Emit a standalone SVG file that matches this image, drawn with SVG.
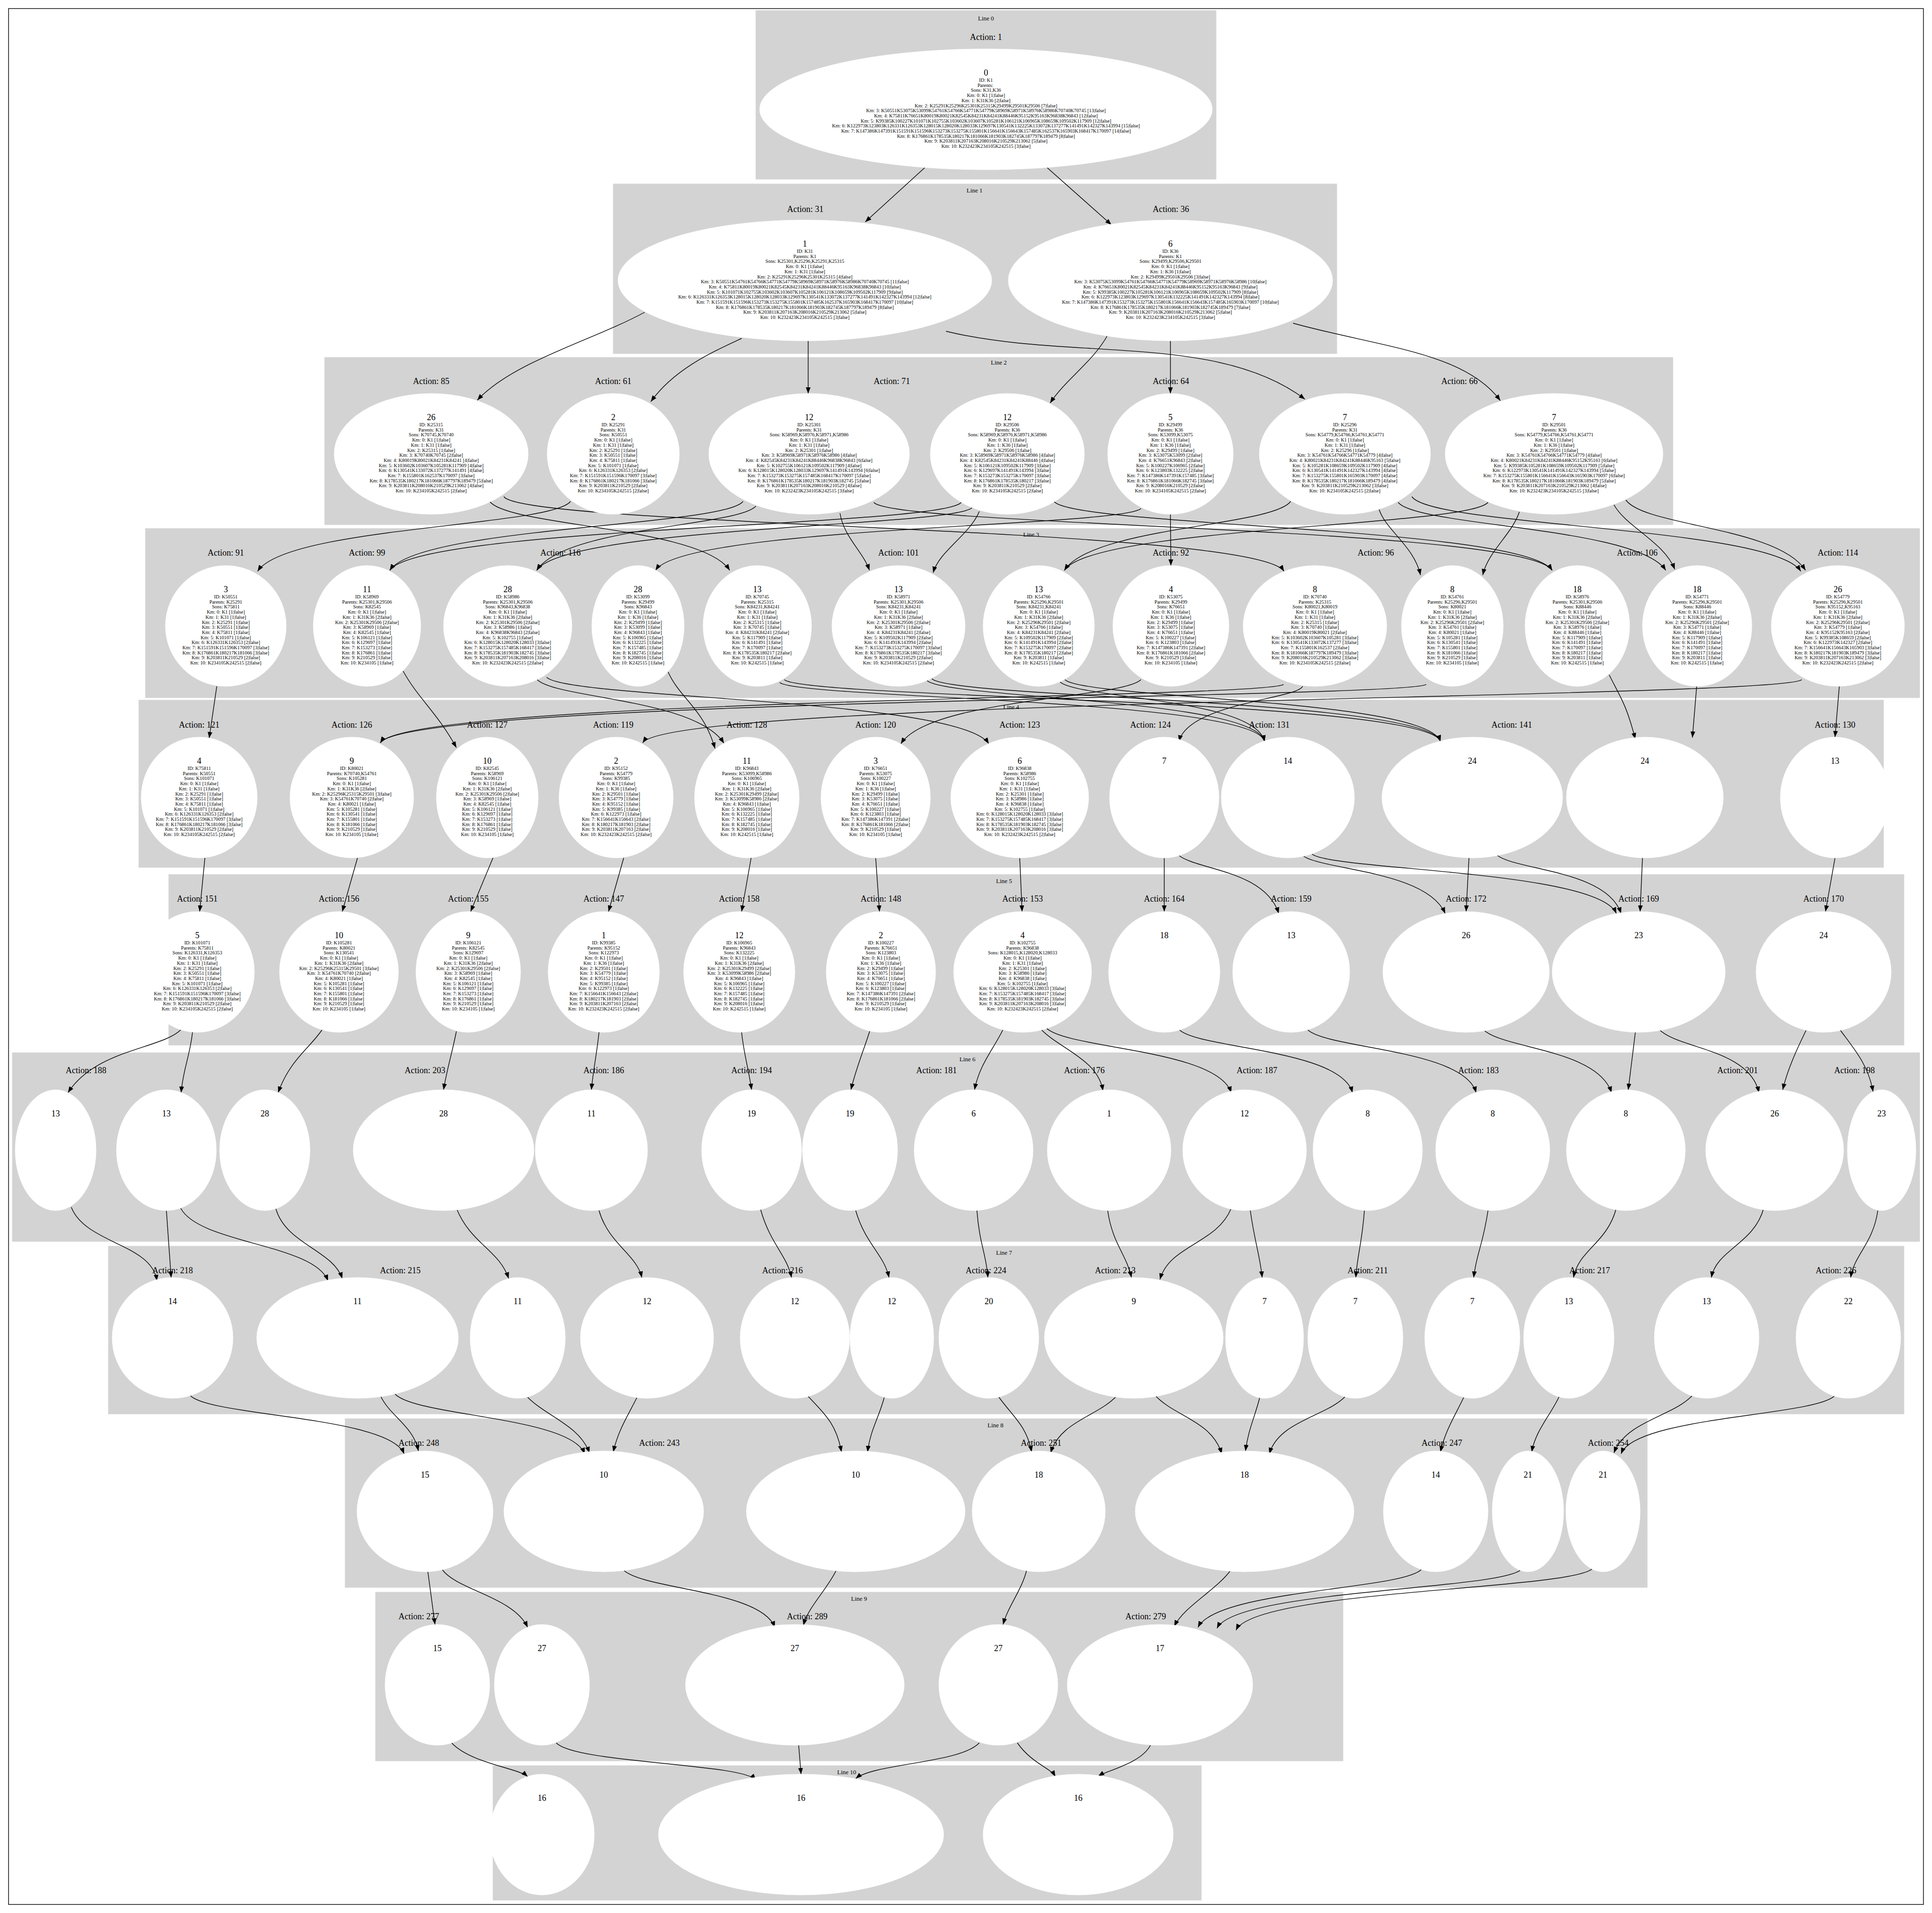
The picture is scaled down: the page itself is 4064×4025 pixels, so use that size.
<svg xmlns="http://www.w3.org/2000/svg" width="4064" height="4025" viewBox="0 0 4064 4025">
<style>
.cl{fill:#d3d3d3;stroke:#d3d3d3}
.nd{fill:#fff;stroke:#fff}
text{font-family:"Liberation Serif","Times New Roman",serif;fill:#000;text-anchor:middle}
.t{font-size:10.3px}
.n{font-size:18px}
.a{font-size:18px}
.l{font-size:13px}
.e path{fill:none;stroke:#000;stroke-width:1.4;marker-end:url(#ah)}
</style>
<defs><marker id="ah" markerWidth="13" markerHeight="10" refX="13" refY="5" orient="auto" markerUnits="userSpaceOnUse"><path d="M0,0L13,5L0,10z" fill="#000"/></marker></defs>
<rect width="4064" height="4025" fill="#fff"/>
<rect x="18" y="18" width="4028" height="3989" fill="none" stroke="#000" stroke-width="1.4"/>
<g id="clusters">
<rect class="cl" x="1590" y="22" width="968" height="355"/><text class="l" x="2074" y="43">Line 0</text>
<rect class="cl" x="1290" y="387" width="1522" height="357"/><text class="l" x="2050" y="405">Line 1</text>
<rect class="cl" x="683" y="752" width="2836" height="352"/><text class="l" x="2101" y="767">Line 2</text>
<rect class="cl" x="306" y="1112" width="3732" height="356"/><text class="l" x="2169" y="1129">Line 3</text>
<rect class="cl" x="292" y="1473" width="3670" height="352"/><text class="l" x="2127" y="1492">Line 4</text>
<rect class="cl" x="355" y="1840" width="3650" height="359"/><text class="l" x="2112" y="1858">Line 5</text>
<rect class="cl" x="26" y="2215" width="4012" height="397"/><text class="l" x="2035" y="2233">Line 6</text>
<rect class="cl" x="228" y="2622" width="3777" height="353"/><text class="l" x="2112" y="2640">Line 7</text>
<rect class="cl" x="726" y="2985" width="2739" height="355"/><text class="l" x="2094" y="3003">Line 8</text>
<rect class="cl" x="790" y="3350" width="2035" height="355"/><text class="l" x="1807" y="3368">Line 9</text>
<rect class="cl" x="1037" y="3715" width="1490" height="283"/><text class="l" x="1781" y="3733">Line 10</text>
</g>
<g id="actions" class="a">
<text class="a" x="2074" y="84">Action: 1</text>
<text class="a" x="1694" y="446">Action: 31</text><text class="a" x="2463" y="446">Action: 36</text>
<text class="a" x="907" y="808">Action: 85</text><text class="a" x="1290" y="808">Action: 61</text><text class="a" x="1876" y="808">Action: 71</text><text class="a" x="2463" y="808">Action: 64</text><text class="a" x="3070" y="808">Action: 66</text>
<text class="a" x="475" y="1169">Action: 91</text><text class="a" x="772" y="1169">Action: 99</text><text class="a" x="1179" y="1169">Action: 116</text><text class="a" x="1890" y="1169">Action: 101</text><text class="a" x="2463" y="1169">Action: 92</text><text class="a" x="2894" y="1169">Action: 96</text><text class="a" x="3444" y="1169">Action: 106</text><text class="a" x="3866" y="1169">Action: 114</text>
<text class="a" x="419" y="1531">Action: 121</text><text class="a" x="740" y="1531">Action: 126</text><text class="a" x="1025" y="1531">Action: 127</text><text class="a" x="1290" y="1531">Action: 119</text><text class="a" x="1571" y="1531">Action: 128</text><text class="a" x="1842" y="1531">Action: 120</text><text class="a" x="2145" y="1531">Action: 123</text><text class="a" x="2420" y="1531">Action: 124</text><text class="a" x="2670" y="1531">Action: 131</text><text class="a" x="3180" y="1531">Action: 141</text><text class="a" x="3860" y="1531">Action: 130</text>
<text class="a" x="415" y="1897">Action: 151</text><text class="a" x="713" y="1897">Action: 156</text><text class="a" x="985" y="1897">Action: 155</text><text class="a" x="1270" y="1897">Action: 147</text><text class="a" x="1555" y="1897">Action: 158</text><text class="a" x="1853" y="1897">Action: 148</text><text class="a" x="2151" y="1897">Action: 153</text><text class="a" x="2449" y="1897">Action: 164</text><text class="a" x="2716" y="1897">Action: 159</text><text class="a" x="3084" y="1897">Action: 172</text><text class="a" x="3447" y="1897">Action: 169</text><text class="a" x="3836" y="1897">Action: 170</text>
<text class="a" x="181" y="2258">Action: 188</text><text class="a" x="894" y="2258">Action: 203</text><text class="a" x="1270" y="2258">Action: 186</text><text class="a" x="1581" y="2258">Action: 194</text><text class="a" x="1970" y="2258">Action: 181</text><text class="a" x="2281" y="2258">Action: 176</text><text class="a" x="2644" y="2258">Action: 187</text><text class="a" x="3110" y="2258">Action: 183</text><text class="a" x="3655" y="2258">Action: 201</text><text class="a" x="3901" y="2258">Action: 198</text>
<text class="a" x="363" y="2679">Action: 218</text><text class="a" x="842" y="2679">Action: 215</text><text class="a" x="1646" y="2679">Action: 216</text><text class="a" x="2074" y="2679">Action: 224</text><text class="a" x="2346" y="2679">Action: 213</text><text class="a" x="2877" y="2679">Action: 211</text><text class="a" x="3344" y="2679">Action: 217</text><text class="a" x="3862" y="2679">Action: 226</text>
<text class="a" x="881" y="3042">Action: 248</text><text class="a" x="1387" y="3042">Action: 243</text><text class="a" x="2190" y="3042">Action: 251</text><text class="a" x="3033" y="3042">Action: 247</text><text class="a" x="3383" y="3042">Action: 254</text>
<text class="a" x="881" y="3407">Action: 277</text><text class="a" x="1698" y="3407">Action: 289</text><text class="a" x="2410" y="3407">Action: 279</text>
<text class="a" x="1680" y="3777">Action: 307</text>
</g>
<g id="edges" class="e">
<path d="M1945,353L1820,467"/><path d="M2203,353L2338,473"/>
<path d="M1356,657C1250,715 1080,760 1004,842"/><path d="M1560,712C1500,740 1420,775 1369,845"/><path d="M1700,717L1700,828"/><path d="M1990,697C2250,760 2560,700 2745,840"/><path d="M2330,705C2300,760 2240,800 2209,848"/><path d="M2462,717L2462,828"/><path d="M2720,680C2900,730 3080,740 3156,843"/>
<path d="M1030,1055C1070,1108 1475,1108 1535,1200"/><path d="M1060,1045C1100,1108 2641,1108 2701,1202"/><path d="M1200,1055C1160,1108 602,1108 542,1202"/><path d="M1563,1055C1523,1108 880,1108 820,1200"/><path d="M1590,1065C1550,1108 1189,1108 1129,1200"/><path d="M1767,1080C1775,1130 1815,1160 1829,1200"/><path d="M1838,1057C1878,1108 3205,1108 3265,1200"/><path d="M2022,1057C1982,1108 880,1108 820,1200"/><path d="M2045,1068C2005,1108 1189,1108 1129,1200"/><path d="M2060,1076C2040,1125 1975,1160 1963,1205"/><path d="M2217,1055C2257,1108 3205,1108 3265,1200"/><path d="M2400,1070C2360,1108 1439,1108 1379,1200"/><path d="M2462,1082L2463,1190"/><path d="M2715,1055C2675,1108 2299,1108 2239,1200"/><path d="M2901,1072C2915,1115 2975,1150 2988,1210"/><path d="M2941,1057C2981,1108 3444,1108 3504,1200"/><path d="M2970,1045C3010,1108 3728,1108 3788,1202"/><path d="M3130,1057C3090,1108 2299,1108 2239,1200"/><path d="M3196,1077C3180,1125 3130,1160 3119,1210"/><path d="M3395,1062C3420,1108 3500,1140 3523,1198"/><path d="M3420,1052C3460,1108 3738,1108 3798,1200"/>
<path d="M456,1444L440,1553"/><path d="M848,1412C880,1470 920,1500 960,1573"/><path d="M2700,1440C2660,1470 860,1470 800,1563"/><path d="M3000,1440C2960,1470 860,1470 800,1563"/><path d="M2740,1444C2730,1470 2500,1480 2480,1560"/><path d="M1130,1430C1170,1470 1463,1470 1523,1564"/><path d="M1405,1413C1430,1470 1480,1490 1504,1575"/><path d="M1150,1425C1190,1470 2020,1470 2080,1565"/><path d="M2400,1430C2360,1470 1955,1470 1895,1565"/><path d="M3790,1430C3750,1470 1412,1470 1352,1563"/><path d="M3869,1444L3860,1551"/><path d="M1640,1436C1680,1470 2640,1470 2660,1560"/><path d="M1650,1430C1690,1470 3000,1470 3030,1560"/><path d="M1950,1432C1990,1470 2640,1470 2660,1560"/><path d="M1960,1428C2000,1470 3000,1470 3030,1560"/><path d="M2230,1435C2270,1470 2640,1470 2660,1560"/><path d="M2240,1430C2280,1470 3000,1470 3030,1560"/><path d="M3385,1420C3410,1470 3420,1480 3440,1555"/><path d="M3569,1444L3560,1552"/>
<path d="M431,1805L420,1918"/><path d="M752,1805L720,1918"/><path d="M1037,1805L990,1918"/><path d="M1312,1805L1280,1918"/><path d="M1580,1805L1560,1918"/><path d="M1842,1805L1850,1918"/><path d="M2145,1805L2150,1918"/><path d="M3860,1805L3840,1918"/>
<path d="M2449,1805L2449,1918"/><path d="M2480,1800C2520,1831 2660,1831 2690,1922"/><path d="M2740,1800C2780,1831 3000,1831 3040,1922"/><path d="M2760,1797C2800,1831 3360,1831 3400,1922"/><path d="M3090,1805L3084,1918"/><path d="M3150,1800C3190,1831 3380,1831 3410,1922"/><path d="M3455,1805L3450,1918"/>
<path d="M381,2166C341,2207 203,2207 143,2299"/><path d="M405,2171C400,2220 385,2250 381,2299"/><path d="M678,2166C650,2207 610,2230 585,2299"/><path d="M960,2170C950,2220 940,2250 933,2293"/><path d="M1260,2172C1255,2220 1248,2250 1244,2293"/><path d="M1560,2172C1565,2220 1575,2250 1581,2293"/><path d="M1830,2168C1815,2215 1800,2250 1790,2293"/><path d="M2110,2166C2090,2207 2060,2240 2050,2293"/><path d="M2190,2166C2230,2207 2310,2230 2320,2295"/><path d="M2200,2162C2240,2207 2560,2207 2590,2299"/><path d="M2480,2166C2520,2207 2820,2207 2845,2299"/><path d="M2750,2166C2790,2207 3080,2207 3105,2299"/><path d="M3120,2166C3160,2207 3360,2207 3390,2299"/><path d="M3440,2172L3425,2293"/><path d="M3490,2166C3530,2207 3680,2207 3700,2299"/><path d="M3800,2166C3780,2207 3760,2250 3750,2293"/><path d="M3870,2166C3900,2207 3930,2240 3940,2297"/>
<path d="M150,2540C180,2617 320,2617 330,2695"/><path d="M350,2547L360,2688"/><path d="M380,2542C420,2617 660,2617 690,2695"/><path d="M580,2542C600,2617 700,2630 720,2690"/><path d="M960,2542C990,2617 1050,2630 1070,2690"/><path d="M1260,2547C1280,2617 1340,2640 1350,2688"/><path d="M1600,2545C1620,2617 1655,2640 1665,2688"/><path d="M1800,2547C1820,2617 1860,2640 1870,2688"/><path d="M2055,2547C2060,2617 2075,2640 2078,2688"/><path d="M2330,2547C2340,2617 2370,2640 2380,2688"/><path d="M2590,2542C2560,2617 2460,2620 2440,2692"/><path d="M2630,2547C2640,2617 2650,2640 2655,2688"/><path d="M2870,2547C2865,2617 2855,2640 2852,2688"/><path d="M3130,2547C3120,2617 3105,2640 3100,2688"/><path d="M3400,2542C3380,2617 3320,2630 3310,2688"/><path d="M3710,2542C3690,2617 3610,2630 3600,2688"/><path d="M3950,2547C3940,2617 3900,2640 3893,2688"/>
<path d="M400,2936C440,2980 820,2980 850,3059"/><path d="M800,2936C820,2980 870,3000 880,3053"/><path d="M830,2932C870,2980 1200,2980 1230,3059"/><path d="M1110,2940C1150,2980 1220,3000 1240,3057"/><path d="M1340,2940C1320,2980 1300,3010 1290,3055"/><path d="M1700,2938C1740,2980 1760,3000 1770,3055"/><path d="M1860,2940C1850,2980 1830,3010 1825,3055"/><path d="M2100,2938C2130,2980 2160,3000 2170,3055"/><path d="M2350,2936C2310,2980 2230,2990 2210,3057"/><path d="M2430,2936C2470,2980 2550,2990 2570,3059"/><path d="M2650,2940C2640,2980 2625,3010 2620,3053"/><path d="M2830,2938C2790,2980 2690,2990 2670,3059"/><path d="M3080,2938C3060,2980 3040,3010 3030,3055"/><path d="M3280,2938C3260,2980 3230,3010 3222,3055"/><path d="M3560,2936C3520,2980 3420,2990 3395,3057"/><path d="M3860,2936C3820,2980 3440,2980 3410,3059"/>
<path d="M900,3307L915,3418"/><path d="M930,3302C960,3345 1080,3360 1110,3424"/><path d="M1310,3302C1350,3345 1600,3345 1630,3424"/><path d="M1760,3302C1740,3345 1700,3380 1690,3420"/><path d="M2160,3302C2150,3345 2120,3380 2110,3418"/><path d="M2590,3302C2560,3345 2490,3380 2470,3422"/><path d="M2990,3302C2950,3345 2560,3345 2520,3424"/><path d="M3200,3302C3160,3345 2600,3345 2560,3426"/><path d="M3350,3300C3310,3345 2640,3345 2600,3430"/>
<path d="M950,3667C990,3710 1090,3720 1110,3738"/><path d="M1170,3667C1210,3710 1560,3710 1590,3745"/><path d="M1680,3672L1685,3733"/><path d="M2060,3667C2020,3710 1840,3710 1800,3742"/><path d="M2140,3667C2170,3710 2210,3720 2220,3738"/><path d="M2420,3672C2400,3710 2330,3725 2310,3737"/>
</g>
<g id="nodes" class="t">
<g id="K1" transform="translate(2074,230)"><ellipse class="nd" rx="476" ry="127"/><text><tspan class="n" x="0" y="-71">0</tspan><tspan x="0" y="-58">ID: K1</tspan><tspan x="0" dy="10.7">Parents: </tspan><tspan x="0" dy="10.7">Sons: K31,K36</tspan><tspan x="0" dy="10.7">Km: 0: K1 [1|false]</tspan><tspan x="0" dy="10.7">Km: 1: K31K36 [2|false]</tspan><tspan x="0" dy="10.7">Km: 2: K25291K25296K25301K25315K29499K29501K29506 [7|false]</tspan><tspan x="0" dy="10.7">Km: 3: K50551K53075K53099K54761K54766K54771K54779K58969K58971K58976K58986K70740K70745 [13|false]</tspan><tspan x="0" dy="10.7">Km: 4: K75811K76651K80019K80021K82545K84231K84241K88446K95152K95163K96838K96843 [12|false]</tspan><tspan x="0" dy="10.7">Km: 5: K99385K100227K101071K102755K103602K103607K105281K106121K106965K108659K109502K117909 [12|false]</tspan><tspan x="0" dy="10.7">Km: 6: K122973K123803K126331K126353K128015K128020K128033K129697K130541K132225K133072K137277K141491K142327K143994 [15|false]</tspan><tspan x="0" dy="10.7">Km: 7: K147386K147391K151591K151596K153273K153275K155801K156641K156643K157485K162537K165903K168417K170097 [14|false]</tspan><tspan x="0" dy="10.7">Km: 8: K176861K178535K180217K181066K181903K182745K187797K189479 [8|false]</tspan><tspan x="0" dy="10.7">Km: 9: K203811K207163K208016K210529K213062 [5|false]</tspan><tspan x="0" dy="10.7">Km: 10: K232423K234105K242515 [3|false]</tspan></text></g>
<g id="K31" transform="translate(1693,590)"><ellipse class="nd" rx="393" ry="127"/><text><tspan class="n" x="0" y="-71">1</tspan><tspan x="0" y="-58">ID: K31</tspan><tspan x="0" dy="10.7">Parents: K1</tspan><tspan x="0" dy="10.7">Sons: K25301,K25296,K25291,K25315</tspan><tspan x="0" dy="10.7">Km: 0: K1 [1|false]</tspan><tspan x="0" dy="10.7">Km: 1: K31 [1|false]</tspan><tspan x="0" dy="10.7">Km: 2: K25291K25296K25301K25315 [4|false]</tspan><tspan x="0" dy="10.7">Km: 3: K50551K54761K54766K54771K54779K58969K58971K58976K58986K70740K70745 [11|false]</tspan><tspan x="0" dy="10.7">Km: 4: K75811K80019K80021K82545K84231K84241K88446K95163K96838K96843 [10|false]</tspan><tspan x="0" dy="10.7">Km: 5: K101071K102755K103602K103607K105281K106121K108659K109502K117909 [9|false]</tspan><tspan x="0" dy="10.7">Km: 6: K126331K126353K128015K128020K128033K129697K130541K133072K137277K141491K142327K143994 [12|false]</tspan><tspan x="0" dy="10.7">Km: 7: K151591K151596K153273K153275K155801K157485K162537K165903K168417K170097 [10|false]</tspan><tspan x="0" dy="10.7">Km: 8: K176861K178535K180217K181066K181903K182745K187797K189479 [8|false]</tspan><tspan x="0" dy="10.7">Km: 9: K203811K207163K208016K210529K213062 [5|false]</tspan><tspan x="0" dy="10.7">Km: 10: K232423K234105K242515 [3|false]</tspan></text></g>
<g id="K36" transform="translate(2462,590)"><ellipse class="nd" rx="341" ry="127"/><text><tspan class="n" x="0" y="-71">6</tspan><tspan x="0" y="-58">ID: K36</tspan><tspan x="0" dy="10.7">Parents: K1</tspan><tspan x="0" dy="10.7">Sons: K29499,K29506,K29501</tspan><tspan x="0" dy="10.7">Km: 0: K1 [1|false]</tspan><tspan x="0" dy="10.7">Km: 1: K36 [1|false]</tspan><tspan x="0" dy="10.7">Km: 2: K29499K29501K29506 [3|false]</tspan><tspan x="0" dy="10.7">Km: 3: K53075K53099K54761K54766K54771K54779K58969K58971K58976K58986 [10|false]</tspan><tspan x="0" dy="10.7">Km: 4: K76651K80021K82545K84231K84241K88446K95152K95163K96843 [9|false]</tspan><tspan x="0" dy="10.7">Km: 5: K99385K100227K105281K106121K106965K108659K109502K117909 [8|false]</tspan><tspan x="0" dy="10.7">Km: 6: K122973K123803K129697K130541K132225K141491K142327K143994 [8|false]</tspan><tspan x="0" dy="10.7">Km: 7: K147386K147391K153273K153275K155801K156641K156643K157485K165903K170097 [10|false]</tspan><tspan x="0" dy="10.7">Km: 8: K176861K178535K180217K181066K181903K182745K189479 [7|false]</tspan><tspan x="0" dy="10.7">Km: 9: K203811K207163K208016K210529K213062 [5|false]</tspan><tspan x="0" dy="10.7">Km: 10: K232423K234105K242515 [3|false]</tspan></text></g>
<g id="K25315" transform="translate(907,955)"><ellipse class="nd" rx="204" ry="127"/><text><tspan class="n" x="0" y="-71">26</tspan><tspan x="0" y="-58">ID: K25315</tspan><tspan x="0" dy="10.7">Parents: K31</tspan><tspan x="0" dy="10.7">Sons: K70745,K70740</tspan><tspan x="0" dy="10.7">Km: 0: K1 [1|false]</tspan><tspan x="0" dy="10.7">Km: 1: K31 [1|false]</tspan><tspan x="0" dy="10.7">Km: 2: K25315 [1|false]</tspan><tspan x="0" dy="10.7">Km: 3: K70740K70745 [2|false]</tspan><tspan x="0" dy="10.7">Km: 4: K80019K80021K84231K84241 [4|false]</tspan><tspan x="0" dy="10.7">Km: 5: K103602K103607K105281K117909 [4|false]</tspan><tspan x="0" dy="10.7">Km: 6: K130541K133072K137277K141491 [4|false]</tspan><tspan x="0" dy="10.7">Km: 7: K155801K162537K170097 [3|false]</tspan><tspan x="0" dy="10.7">Km: 8: K178535K180217K181066K187797K189479 [5|false]</tspan><tspan x="0" dy="10.7">Km: 9: K203811K208016K210529K213062 [4|false]</tspan><tspan x="0" dy="10.7">Km: 10: K234105K242515 [2|false]</tspan></text></g>
<g id="K25291" transform="translate(1290,955)"><ellipse class="nd" rx="139" ry="127"/><text><tspan class="n" x="0" y="-71">2</tspan><tspan x="0" y="-58">ID: K25291</tspan><tspan x="0" dy="10.7">Parents: K31</tspan><tspan x="0" dy="10.7">Sons: K50551</tspan><tspan x="0" dy="10.7">Km: 0: K1 [1|false]</tspan><tspan x="0" dy="10.7">Km: 1: K31 [1|false]</tspan><tspan x="0" dy="10.7">Km: 2: K25291 [1|false]</tspan><tspan x="0" dy="10.7">Km: 3: K50551 [1|false]</tspan><tspan x="0" dy="10.7">Km: 4: K75811 [1|false]</tspan><tspan x="0" dy="10.7">Km: 5: K101071 [1|false]</tspan><tspan x="0" dy="10.7">Km: 6: K126331K126353 [2|false]</tspan><tspan x="0" dy="10.7">Km: 7: K151591K151596K170097 [3|false]</tspan><tspan x="0" dy="10.7">Km: 8: K176861K180217K181066 [3|false]</tspan><tspan x="0" dy="10.7">Km: 9: K203811K210529 [2|false]</tspan><tspan x="0" dy="10.7">Km: 10: K234105K242515 [2|false]</tspan></text></g>
<g id="K25301" transform="translate(1702,955)"><ellipse class="nd" rx="211" ry="127"/><text><tspan class="n" x="0" y="-71">12</tspan><tspan x="0" y="-58">ID: K25301</tspan><tspan x="0" dy="10.7">Parents: K31</tspan><tspan x="0" dy="10.7">Sons: K58969,K58976,K58971,K58986</tspan><tspan x="0" dy="10.7">Km: 0: K1 [1|false]</tspan><tspan x="0" dy="10.7">Km: 1: K31 [1|false]</tspan><tspan x="0" dy="10.7">Km: 2: K25301 [1|false]</tspan><tspan x="0" dy="10.7">Km: 3: K58969K58971K58976K58986 [4|false]</tspan><tspan x="0" dy="10.7">Km: 4: K82545K84231K84241K88446K96838K96843 [6|false]</tspan><tspan x="0" dy="10.7">Km: 5: K102755K106121K109502K117909 [4|false]</tspan><tspan x="0" dy="10.7">Km: 6: K128015K128020K128033K129697K141491K143994 [6|false]</tspan><tspan x="0" dy="10.7">Km: 7: K153273K153275K157485K168417K170097 [5|false]</tspan><tspan x="0" dy="10.7">Km: 8: K176861K178535K180217K181903K182745 [5|false]</tspan><tspan x="0" dy="10.7">Km: 9: K203811K207163K208016K210529 [4|false]</tspan><tspan x="0" dy="10.7">Km: 10: K232423K234105K242515 [3|false]</tspan></text></g>
<g id="K29506" transform="translate(2119,955)"><ellipse class="nd" rx="162" ry="127"/><text><tspan class="n" x="0" y="-71">12</tspan><tspan x="0" y="-58">ID: K29506</tspan><tspan x="0" dy="10.7">Parents: K36</tspan><tspan x="0" dy="10.7">Sons: K58969,K58976,K58971,K58986</tspan><tspan x="0" dy="10.7">Km: 0: K1 [1|false]</tspan><tspan x="0" dy="10.7">Km: 1: K36 [1|false]</tspan><tspan x="0" dy="10.7">Km: 2: K29506 [1|false]</tspan><tspan x="0" dy="10.7">Km: 3: K58969K58971K58976K58986 [4|false]</tspan><tspan x="0" dy="10.7">Km: 4: K82545K84231K84241K88446 [4|false]</tspan><tspan x="0" dy="10.7">Km: 5: K106121K109502K117909 [3|false]</tspan><tspan x="0" dy="10.7">Km: 6: K129697K141491K143994 [3|false]</tspan><tspan x="0" dy="10.7">Km: 7: K153273K153275K170097 [3|false]</tspan><tspan x="0" dy="10.7">Km: 8: K176861K178535K180217 [3|false]</tspan><tspan x="0" dy="10.7">Km: 9: K203811K210529 [2|false]</tspan><tspan x="0" dy="10.7">Km: 10: K234105K242515 [2|false]</tspan></text></g>
<g id="K29499" transform="translate(2462,955)"><ellipse class="nd" rx="132" ry="127"/><text><tspan class="n" x="0" y="-71">5</tspan><tspan x="0" y="-58">ID: K29499</tspan><tspan x="0" dy="10.7">Parents: K36</tspan><tspan x="0" dy="10.7">Sons: K53099,K53075</tspan><tspan x="0" dy="10.7">Km: 0: K1 [1|false]</tspan><tspan x="0" dy="10.7">Km: 1: K36 [1|false]</tspan><tspan x="0" dy="10.7">Km: 2: K29499 [1|false]</tspan><tspan x="0" dy="10.7">Km: 3: K53075K53099 [2|false]</tspan><tspan x="0" dy="10.7">Km: 4: K76651K96843 [2|false]</tspan><tspan x="0" dy="10.7">Km: 5: K100227K106965 [2|false]</tspan><tspan x="0" dy="10.7">Km: 6: K123803K132225 [2|false]</tspan><tspan x="0" dy="10.7">Km: 7: K147386K147391K157485 [3|false]</tspan><tspan x="0" dy="10.7">Km: 8: K176861K181066K182745 [3|false]</tspan><tspan x="0" dy="10.7">Km: 9: K208016K210529 [2|false]</tspan><tspan x="0" dy="10.7">Km: 10: K234105K242515 [2|false]</tspan></text></g>
<g id="K25296" transform="translate(2829,955)"><ellipse class="nd" rx="180" ry="127"/><text><tspan class="n" x="0" y="-71">7</tspan><tspan x="0" y="-58">ID: K25296</tspan><tspan x="0" dy="10.7">Parents: K31</tspan><tspan x="0" dy="10.7">Sons: K54779,K54766,K54761,K54771</tspan><tspan x="0" dy="10.7">Km: 0: K1 [1|false]</tspan><tspan x="0" dy="10.7">Km: 1: K31 [1|false]</tspan><tspan x="0" dy="10.7">Km: 2: K25296 [1|false]</tspan><tspan x="0" dy="10.7">Km: 3: K54761K54766K54771K54779 [4|false]</tspan><tspan x="0" dy="10.7">Km: 4: K80021K84231K84241K88446K95163 [5|false]</tspan><tspan x="0" dy="10.7">Km: 5: K105281K108659K109502K117909 [4|false]</tspan><tspan x="0" dy="10.7">Km: 6: K130541K141491K142327K143994 [4|false]</tspan><tspan x="0" dy="10.7">Km: 7: K153275K155801K165903K170097 [4|false]</tspan><tspan x="0" dy="10.7">Km: 8: K178535K180217K181066K189479 [4|false]</tspan><tspan x="0" dy="10.7">Km: 9: K203811K210529K213062 [3|false]</tspan><tspan x="0" dy="10.7">Km: 10: K234105K242515 [2|false]</tspan></text></g>
<g id="K29501" transform="translate(3269,955)"><ellipse class="nd" rx="229" ry="127"/><text><tspan class="n" x="0" y="-71">7</tspan><tspan x="0" y="-58">ID: K29501</tspan><tspan x="0" dy="10.7">Parents: K36</tspan><tspan x="0" dy="10.7">Sons: K54779,K54766,K54761,K54771</tspan><tspan x="0" dy="10.7">Km: 0: K1 [1|false]</tspan><tspan x="0" dy="10.7">Km: 1: K36 [1|false]</tspan><tspan x="0" dy="10.7">Km: 2: K29501 [1|false]</tspan><tspan x="0" dy="10.7">Km: 3: K54761K54766K54771K54779 [4|false]</tspan><tspan x="0" dy="10.7">Km: 4: K80021K84231K84241K88446K95152K95163 [6|false]</tspan><tspan x="0" dy="10.7">Km: 5: K99385K105281K108659K109502K117909 [5|false]</tspan><tspan x="0" dy="10.7">Km: 6: K122973K130541K141491K142327K143994 [5|false]</tspan><tspan x="0" dy="10.7">Km: 7: K153275K155801K156641K156643K165903K170097 [6|false]</tspan><tspan x="0" dy="10.7">Km: 8: K178535K180217K181066K181903K189479 [5|false]</tspan><tspan x="0" dy="10.7">Km: 9: K203811K207163K210529K213062 [4|false]</tspan><tspan x="0" dy="10.7">Km: 10: K232423K234105K242515 [3|false]</tspan></text></g>
<g id="K50551" transform="translate(475,1317)"><ellipse class="nd" rx="127" ry="127"/><text><tspan class="n" x="0" y="-71">3</tspan><tspan x="0" y="-58">ID: K50551</tspan><tspan x="0" dy="10.7">Parents: K25291</tspan><tspan x="0" dy="10.7">Sons: K75811</tspan><tspan x="0" dy="10.7">Km: 0: K1 [1|false]</tspan><tspan x="0" dy="10.7">Km: 1: K31 [1|false]</tspan><tspan x="0" dy="10.7">Km: 2: K25291 [1|false]</tspan><tspan x="0" dy="10.7">Km: 3: K50551 [1|false]</tspan><tspan x="0" dy="10.7">Km: 4: K75811 [1|false]</tspan><tspan x="0" dy="10.7">Km: 5: K101071 [1|false]</tspan><tspan x="0" dy="10.7">Km: 6: K126331K126353 [2|false]</tspan><tspan x="0" dy="10.7">Km: 7: K151591K151596K170097 [3|false]</tspan><tspan x="0" dy="10.7">Km: 8: K176861K180217K181066 [3|false]</tspan><tspan x="0" dy="10.7">Km: 9: K203811K210529 [2|false]</tspan><tspan x="0" dy="10.7">Km: 10: K234105K242515 [2|false]</tspan></text></g>
<g id="K58969" transform="translate(772,1317)"><ellipse class="nd" rx="113" ry="127"/><text><tspan class="n" x="0" y="-71">11</tspan><tspan x="0" y="-58">ID: K58969</tspan><tspan x="0" dy="10.7">Parents: K25301,K29506</tspan><tspan x="0" dy="10.7">Sons: K82545</tspan><tspan x="0" dy="10.7">Km: 0: K1 [1|false]</tspan><tspan x="0" dy="10.7">Km: 1: K31K36 [2|false]</tspan><tspan x="0" dy="10.7">Km: 2: K25301K29506 [2|false]</tspan><tspan x="0" dy="10.7">Km: 3: K58969 [1|false]</tspan><tspan x="0" dy="10.7">Km: 4: K82545 [1|false]</tspan><tspan x="0" dy="10.7">Km: 5: K106121 [1|false]</tspan><tspan x="0" dy="10.7">Km: 6: K129697 [1|false]</tspan><tspan x="0" dy="10.7">Km: 7: K153273 [1|false]</tspan><tspan x="0" dy="10.7">Km: 8: K176861 [1|false]</tspan><tspan x="0" dy="10.7">Km: 9: K210529 [1|false]</tspan><tspan x="0" dy="10.7">Km: 10: K234105 [1|false]</tspan></text></g>
<g id="K58986" transform="translate(1068,1317)"><ellipse class="nd" rx="135" ry="127"/><text><tspan class="n" x="0" y="-71">28</tspan><tspan x="0" y="-58">ID: K58986</tspan><tspan x="0" dy="10.7">Parents: K25301,K29506</tspan><tspan x="0" dy="10.7">Sons: K96843,K96838</tspan><tspan x="0" dy="10.7">Km: 0: K1 [1|false]</tspan><tspan x="0" dy="10.7">Km: 1: K31K36 [2|false]</tspan><tspan x="0" dy="10.7">Km: 2: K25301K29506 [2|false]</tspan><tspan x="0" dy="10.7">Km: 3: K58986 [1|false]</tspan><tspan x="0" dy="10.7">Km: 4: K96838K96843 [2|false]</tspan><tspan x="0" dy="10.7">Km: 5: K102755 [1|false]</tspan><tspan x="0" dy="10.7">Km: 6: K128015K128020K128033 [3|false]</tspan><tspan x="0" dy="10.7">Km: 7: K153275K157485K168417 [3|false]</tspan><tspan x="0" dy="10.7">Km: 8: K178535K181903K182745 [3|false]</tspan><tspan x="0" dy="10.7">Km: 9: K203811K207163K208016 [3|false]</tspan><tspan x="0" dy="10.7">Km: 10: K232423K242515 [2|false]</tspan></text></g>
<g id="K53099" transform="translate(1342,1317)"><ellipse class="nd" rx="97" ry="127"/><text><tspan class="n" x="0" y="-71">28</tspan><tspan x="0" y="-58">ID: K53099</tspan><tspan x="0" dy="10.7">Parents: K29499</tspan><tspan x="0" dy="10.7">Sons: K96843</tspan><tspan x="0" dy="10.7">Km: 0: K1 [1|false]</tspan><tspan x="0" dy="10.7">Km: 1: K36 [1|false]</tspan><tspan x="0" dy="10.7">Km: 2: K29499 [1|false]</tspan><tspan x="0" dy="10.7">Km: 3: K53099 [1|false]</tspan><tspan x="0" dy="10.7">Km: 4: K96843 [1|false]</tspan><tspan x="0" dy="10.7">Km: 5: K106965 [1|false]</tspan><tspan x="0" dy="10.7">Km: 6: K132225 [1|false]</tspan><tspan x="0" dy="10.7">Km: 7: K157485 [1|false]</tspan><tspan x="0" dy="10.7">Km: 8: K182745 [1|false]</tspan><tspan x="0" dy="10.7">Km: 9: K208016 [1|false]</tspan><tspan x="0" dy="10.7">Km: 10: K242515 [1|false]</tspan></text></g>
<g id="K70745" transform="translate(1593,1317)"><ellipse class="nd" rx="114" ry="127"/><text><tspan class="n" x="0" y="-71">13</tspan><tspan x="0" y="-58">ID: K70745</tspan><tspan x="0" dy="10.7">Parents: K25315</tspan><tspan x="0" dy="10.7">Sons: K84231,K84241</tspan><tspan x="0" dy="10.7">Km: 0: K1 [1|false]</tspan><tspan x="0" dy="10.7">Km: 1: K31 [1|false]</tspan><tspan x="0" dy="10.7">Km: 2: K25315 [1|false]</tspan><tspan x="0" dy="10.7">Km: 3: K70745 [1|false]</tspan><tspan x="0" dy="10.7">Km: 4: K84231K84241 [2|false]</tspan><tspan x="0" dy="10.7">Km: 5: K117909 [1|false]</tspan><tspan x="0" dy="10.7">Km: 6: K141491 [1|false]</tspan><tspan x="0" dy="10.7">Km: 7: K170097 [1|false]</tspan><tspan x="0" dy="10.7">Km: 8: K178535K180217 [2|false]</tspan><tspan x="0" dy="10.7">Km: 9: K203811 [1|false]</tspan><tspan x="0" dy="10.7">Km: 10: K242515 [1|false]</tspan></text></g>
<g id="K58971" transform="translate(1890,1317)"><ellipse class="nd" rx="140" ry="127"/><text><tspan class="n" x="0" y="-71">13</tspan><tspan x="0" y="-58">ID: K58971</tspan><tspan x="0" dy="10.7">Parents: K25301,K29506</tspan><tspan x="0" dy="10.7">Sons: K84231,K84241</tspan><tspan x="0" dy="10.7">Km: 0: K1 [1|false]</tspan><tspan x="0" dy="10.7">Km: 1: K31K36 [2|false]</tspan><tspan x="0" dy="10.7">Km: 2: K25301K29506 [2|false]</tspan><tspan x="0" dy="10.7">Km: 3: K58971 [1|false]</tspan><tspan x="0" dy="10.7">Km: 4: K84231K84241 [2|false]</tspan><tspan x="0" dy="10.7">Km: 5: K109502K117909 [2|false]</tspan><tspan x="0" dy="10.7">Km: 6: K141491K143994 [2|false]</tspan><tspan x="0" dy="10.7">Km: 7: K153273K153275K170097 [3|false]</tspan><tspan x="0" dy="10.7">Km: 8: K176861K178535K180217 [3|false]</tspan><tspan x="0" dy="10.7">Km: 9: K203811K210529 [2|false]</tspan><tspan x="0" dy="10.7">Km: 10: K234105K242515 [2|false]</tspan></text></g>
<g id="K54766" transform="translate(2185,1317)"><ellipse class="nd" rx="117" ry="127"/><text><tspan class="n" x="0" y="-71">13</tspan><tspan x="0" y="-58">ID: K54766</tspan><tspan x="0" dy="10.7">Parents: K25296,K29501</tspan><tspan x="0" dy="10.7">Sons: K84231,K84241</tspan><tspan x="0" dy="10.7">Km: 0: K1 [1|false]</tspan><tspan x="0" dy="10.7">Km: 1: K31K36 [2|false]</tspan><tspan x="0" dy="10.7">Km: 2: K25296K29501 [2|false]</tspan><tspan x="0" dy="10.7">Km: 3: K54766 [1|false]</tspan><tspan x="0" dy="10.7">Km: 4: K84231K84241 [2|false]</tspan><tspan x="0" dy="10.7">Km: 5: K109502K117909 [2|false]</tspan><tspan x="0" dy="10.7">Km: 6: K141491K143994 [2|false]</tspan><tspan x="0" dy="10.7">Km: 7: K153275K170097 [2|false]</tspan><tspan x="0" dy="10.7">Km: 8: K178535K180217 [2|false]</tspan><tspan x="0" dy="10.7">Km: 9: K203811 [1|false]</tspan><tspan x="0" dy="10.7">Km: 10: K242515 [1|false]</tspan></text></g>
<g id="K53075" transform="translate(2463,1317)"><ellipse class="nd" rx="122" ry="127"/><text><tspan class="n" x="0" y="-71">4</tspan><tspan x="0" y="-58">ID: K53075</tspan><tspan x="0" dy="10.7">Parents: K29499</tspan><tspan x="0" dy="10.7">Sons: K76651</tspan><tspan x="0" dy="10.7">Km: 0: K1 [1|false]</tspan><tspan x="0" dy="10.7">Km: 1: K36 [1|false]</tspan><tspan x="0" dy="10.7">Km: 2: K29499 [1|false]</tspan><tspan x="0" dy="10.7">Km: 3: K53075 [1|false]</tspan><tspan x="0" dy="10.7">Km: 4: K76651 [1|false]</tspan><tspan x="0" dy="10.7">Km: 5: K100227 [1|false]</tspan><tspan x="0" dy="10.7">Km: 6: K123803 [1|false]</tspan><tspan x="0" dy="10.7">Km: 7: K147386K147391 [2|false]</tspan><tspan x="0" dy="10.7">Km: 8: K176861K181066 [2|false]</tspan><tspan x="0" dy="10.7">Km: 9: K210529 [1|false]</tspan><tspan x="0" dy="10.7">Km: 10: K234105 [1|false]</tspan></text></g>
<g id="K70740" transform="translate(2766,1317)"><ellipse class="nd" rx="151" ry="127"/><text><tspan class="n" x="0" y="-71">8</tspan><tspan x="0" y="-58">ID: K70740</tspan><tspan x="0" dy="10.7">Parents: K25315</tspan><tspan x="0" dy="10.7">Sons: K80021,K80019</tspan><tspan x="0" dy="10.7">Km: 0: K1 [1|false]</tspan><tspan x="0" dy="10.7">Km: 1: K31 [1|false]</tspan><tspan x="0" dy="10.7">Km: 2: K25315 [1|false]</tspan><tspan x="0" dy="10.7">Km: 3: K70740 [1|false]</tspan><tspan x="0" dy="10.7">Km: 4: K80019K80021 [2|false]</tspan><tspan x="0" dy="10.7">Km: 5: K103602K103607K105281 [3|false]</tspan><tspan x="0" dy="10.7">Km: 6: K130541K133072K137277 [3|false]</tspan><tspan x="0" dy="10.7">Km: 7: K155801K162537 [2|false]</tspan><tspan x="0" dy="10.7">Km: 8: K181066K187797K189479 [3|false]</tspan><tspan x="0" dy="10.7">Km: 9: K208016K210529K213062 [3|false]</tspan><tspan x="0" dy="10.7">Km: 10: K234105K242515 [2|false]</tspan></text></g>
<g id="K54761" transform="translate(3055,1317)"><ellipse class="nd" rx="107" ry="127"/><text><tspan class="n" x="0" y="-71">8</tspan><tspan x="0" y="-58">ID: K54761</tspan><tspan x="0" dy="10.7">Parents: K25296,K29501</tspan><tspan x="0" dy="10.7">Sons: K80021</tspan><tspan x="0" dy="10.7">Km: 0: K1 [1|false]</tspan><tspan x="0" dy="10.7">Km: 1: K31K36 [2|false]</tspan><tspan x="0" dy="10.7">Km: 2: K25296K29501 [2|false]</tspan><tspan x="0" dy="10.7">Km: 3: K54761 [1|false]</tspan><tspan x="0" dy="10.7">Km: 4: K80021 [1|false]</tspan><tspan x="0" dy="10.7">Km: 5: K105281 [1|false]</tspan><tspan x="0" dy="10.7">Km: 6: K130541 [1|false]</tspan><tspan x="0" dy="10.7">Km: 7: K155801 [1|false]</tspan><tspan x="0" dy="10.7">Km: 8: K181066 [1|false]</tspan><tspan x="0" dy="10.7">Km: 9: K210529 [1|false]</tspan><tspan x="0" dy="10.7">Km: 10: K234105 [1|false]</tspan></text></g>
<g id="K58976" transform="translate(3318,1317)"><ellipse class="nd" rx="110" ry="127"/><text><tspan class="n" x="0" y="-71">18</tspan><tspan x="0" y="-58">ID: K58976</tspan><tspan x="0" dy="10.7">Parents: K25301,K29506</tspan><tspan x="0" dy="10.7">Sons: K88446</tspan><tspan x="0" dy="10.7">Km: 0: K1 [1|false]</tspan><tspan x="0" dy="10.7">Km: 1: K31K36 [2|false]</tspan><tspan x="0" dy="10.7">Km: 2: K25301K29506 [2|false]</tspan><tspan x="0" dy="10.7">Km: 3: K58976 [1|false]</tspan><tspan x="0" dy="10.7">Km: 4: K88446 [1|false]</tspan><tspan x="0" dy="10.7">Km: 5: K117909 [1|false]</tspan><tspan x="0" dy="10.7">Km: 6: K141491 [1|false]</tspan><tspan x="0" dy="10.7">Km: 7: K170097 [1|false]</tspan><tspan x="0" dy="10.7">Km: 8: K180217 [1|false]</tspan><tspan x="0" dy="10.7">Km: 9: K203811 [1|false]</tspan><tspan x="0" dy="10.7">Km: 10: K242515 [1|false]</tspan></text></g>
<g id="K54771" transform="translate(3570,1317)"><ellipse class="nd" rx="115" ry="127"/><text><tspan class="n" x="0" y="-71">18</tspan><tspan x="0" y="-58">ID: K54771</tspan><tspan x="0" dy="10.7">Parents: K25296,K29501</tspan><tspan x="0" dy="10.7">Sons: K88446</tspan><tspan x="0" dy="10.7">Km: 0: K1 [1|false]</tspan><tspan x="0" dy="10.7">Km: 1: K31K36 [2|false]</tspan><tspan x="0" dy="10.7">Km: 2: K25296K29501 [2|false]</tspan><tspan x="0" dy="10.7">Km: 3: K54771 [1|false]</tspan><tspan x="0" dy="10.7">Km: 4: K88446 [1|false]</tspan><tspan x="0" dy="10.7">Km: 5: K117909 [1|false]</tspan><tspan x="0" dy="10.7">Km: 6: K141491 [1|false]</tspan><tspan x="0" dy="10.7">Km: 7: K170097 [1|false]</tspan><tspan x="0" dy="10.7">Km: 8: K180217 [1|false]</tspan><tspan x="0" dy="10.7">Km: 9: K203811 [1|false]</tspan><tspan x="0" dy="10.7">Km: 10: K242515 [1|false]</tspan></text></g>
<g id="K54779" transform="translate(3866,1317)"><ellipse class="nd" rx="140" ry="127"/><text><tspan class="n" x="0" y="-71">26</tspan><tspan x="0" y="-58">ID: K54779</tspan><tspan x="0" dy="10.7">Parents: K25296,K29501</tspan><tspan x="0" dy="10.7">Sons: K95152,K95163</tspan><tspan x="0" dy="10.7">Km: 0: K1 [1|false]</tspan><tspan x="0" dy="10.7">Km: 1: K31K36 [2|false]</tspan><tspan x="0" dy="10.7">Km: 2: K25296K29501 [2|false]</tspan><tspan x="0" dy="10.7">Km: 3: K54779 [1|false]</tspan><tspan x="0" dy="10.7">Km: 4: K95152K95163 [2|false]</tspan><tspan x="0" dy="10.7">Km: 5: K99385K108659 [2|false]</tspan><tspan x="0" dy="10.7">Km: 6: K122973K142327 [2|false]</tspan><tspan x="0" dy="10.7">Km: 7: K156641K156643K165903 [3|false]</tspan><tspan x="0" dy="10.7">Km: 8: K180217K181903K189479 [3|false]</tspan><tspan x="0" dy="10.7">Km: 9: K203811K207163K213062 [3|false]</tspan><tspan x="0" dy="10.7">Km: 10: K232423K242515 [2|false]</tspan></text></g>
<g id="K75811" transform="translate(419,1678)"><ellipse class="nd" rx="122" ry="127"/><text><tspan class="n" x="0" y="-71">4</tspan><tspan x="0" y="-58">ID: K75811</tspan><tspan x="0" dy="10.7">Parents: K50551</tspan><tspan x="0" dy="10.7">Sons: K101071</tspan><tspan x="0" dy="10.7">Km: 0: K1 [1|false]</tspan><tspan x="0" dy="10.7">Km: 1: K31 [1|false]</tspan><tspan x="0" dy="10.7">Km: 2: K25291 [1|false]</tspan><tspan x="0" dy="10.7">Km: 3: K50551 [1|false]</tspan><tspan x="0" dy="10.7">Km: 4: K75811 [1|false]</tspan><tspan x="0" dy="10.7">Km: 5: K101071 [1|false]</tspan><tspan x="0" dy="10.7">Km: 6: K126331K126353 [2|false]</tspan><tspan x="0" dy="10.7">Km: 7: K151591K151596K170097 [3|false]</tspan><tspan x="0" dy="10.7">Km: 8: K176861K180217K181066 [3|false]</tspan><tspan x="0" dy="10.7">Km: 9: K203811K210529 [2|false]</tspan><tspan x="0" dy="10.7">Km: 10: K234105K242515 [2|false]</tspan></text></g>
<g id="K80021" transform="translate(740,1678)"><ellipse class="nd" rx="130" ry="127"/><text><tspan class="n" x="0" y="-71">9</tspan><tspan x="0" y="-58">ID: K80021</tspan><tspan x="0" dy="10.7">Parents: K70740,K54761</tspan><tspan x="0" dy="10.7">Sons: K105281</tspan><tspan x="0" dy="10.7">Km: 0: K1 [1|false]</tspan><tspan x="0" dy="10.7">Km: 1: K31K36 [2|false]</tspan><tspan x="0" dy="10.7">Km: 2: K25296K25315K29501 [3|false]</tspan><tspan x="0" dy="10.7">Km: 3: K54761K70740 [2|false]</tspan><tspan x="0" dy="10.7">Km: 4: K80021 [1|false]</tspan><tspan x="0" dy="10.7">Km: 5: K105281 [1|false]</tspan><tspan x="0" dy="10.7">Km: 6: K130541 [1|false]</tspan><tspan x="0" dy="10.7">Km: 7: K155801 [1|false]</tspan><tspan x="0" dy="10.7">Km: 8: K181066 [1|false]</tspan><tspan x="0" dy="10.7">Km: 9: K210529 [1|false]</tspan><tspan x="0" dy="10.7">Km: 10: K234105 [1|false]</tspan></text></g>
<g id="K82545" transform="translate(1025,1678)"><ellipse class="nd" rx="107" ry="127"/><text><tspan class="n" x="0" y="-71">10</tspan><tspan x="0" y="-58">ID: K82545</tspan><tspan x="0" dy="10.7">Parents: K58969</tspan><tspan x="0" dy="10.7">Sons: K106121</tspan><tspan x="0" dy="10.7">Km: 0: K1 [1|false]</tspan><tspan x="0" dy="10.7">Km: 1: K31K36 [2|false]</tspan><tspan x="0" dy="10.7">Km: 2: K25301K29506 [2|false]</tspan><tspan x="0" dy="10.7">Km: 3: K58969 [1|false]</tspan><tspan x="0" dy="10.7">Km: 4: K82545 [1|false]</tspan><tspan x="0" dy="10.7">Km: 5: K106121 [1|false]</tspan><tspan x="0" dy="10.7">Km: 6: K129697 [1|false]</tspan><tspan x="0" dy="10.7">Km: 7: K153273 [1|false]</tspan><tspan x="0" dy="10.7">Km: 8: K176861 [1|false]</tspan><tspan x="0" dy="10.7">Km: 9: K210529 [1|false]</tspan><tspan x="0" dy="10.7">Km: 10: K234105 [1|false]</tspan></text></g>
<g id="K95152" transform="translate(1296,1678)"><ellipse class="nd" rx="120" ry="127"/><text><tspan class="n" x="0" y="-71">2</tspan><tspan x="0" y="-58">ID: K95152</tspan><tspan x="0" dy="10.7">Parents: K54779</tspan><tspan x="0" dy="10.7">Sons: K99385</tspan><tspan x="0" dy="10.7">Km: 0: K1 [1|false]</tspan><tspan x="0" dy="10.7">Km: 1: K36 [1|false]</tspan><tspan x="0" dy="10.7">Km: 2: K29501 [1|false]</tspan><tspan x="0" dy="10.7">Km: 3: K54779 [1|false]</tspan><tspan x="0" dy="10.7">Km: 4: K95152 [1|false]</tspan><tspan x="0" dy="10.7">Km: 5: K99385 [1|false]</tspan><tspan x="0" dy="10.7">Km: 6: K122973 [1|false]</tspan><tspan x="0" dy="10.7">Km: 7: K156641K156643 [2|false]</tspan><tspan x="0" dy="10.7">Km: 8: K180217K181903 [2|false]</tspan><tspan x="0" dy="10.7">Km: 9: K203811K207163 [2|false]</tspan><tspan x="0" dy="10.7">Km: 10: K232423K242515 [2|false]</tspan></text></g>
<g id="K96843" transform="translate(1571,1678)"><ellipse class="nd" rx="110" ry="127"/><text><tspan class="n" x="0" y="-71">11</tspan><tspan x="0" y="-58">ID: K96843</tspan><tspan x="0" dy="10.7">Parents: K53099,K58986</tspan><tspan x="0" dy="10.7">Sons: K106965</tspan><tspan x="0" dy="10.7">Km: 0: K1 [1|false]</tspan><tspan x="0" dy="10.7">Km: 1: K31K36 [2|false]</tspan><tspan x="0" dy="10.7">Km: 2: K25301K29499 [2|false]</tspan><tspan x="0" dy="10.7">Km: 3: K53099K58986 [2|false]</tspan><tspan x="0" dy="10.7">Km: 4: K96843 [1|false]</tspan><tspan x="0" dy="10.7">Km: 5: K106965 [1|false]</tspan><tspan x="0" dy="10.7">Km: 6: K132225 [1|false]</tspan><tspan x="0" dy="10.7">Km: 7: K157485 [1|false]</tspan><tspan x="0" dy="10.7">Km: 8: K182745 [1|false]</tspan><tspan x="0" dy="10.7">Km: 9: K208016 [1|false]</tspan><tspan x="0" dy="10.7">Km: 10: K242515 [1|false]</tspan></text></g>
<g id="K76651" transform="translate(1842,1678)"><ellipse class="nd" rx="115" ry="127"/><text><tspan class="n" x="0" y="-71">3</tspan><tspan x="0" y="-58">ID: K76651</tspan><tspan x="0" dy="10.7">Parents: K53075</tspan><tspan x="0" dy="10.7">Sons: K100227</tspan><tspan x="0" dy="10.7">Km: 0: K1 [1|false]</tspan><tspan x="0" dy="10.7">Km: 1: K36 [1|false]</tspan><tspan x="0" dy="10.7">Km: 2: K29499 [1|false]</tspan><tspan x="0" dy="10.7">Km: 3: K53075 [1|false]</tspan><tspan x="0" dy="10.7">Km: 4: K76651 [1|false]</tspan><tspan x="0" dy="10.7">Km: 5: K100227 [1|false]</tspan><tspan x="0" dy="10.7">Km: 6: K123803 [1|false]</tspan><tspan x="0" dy="10.7">Km: 7: K147386K147391 [2|false]</tspan><tspan x="0" dy="10.7">Km: 8: K176861K181066 [2|false]</tspan><tspan x="0" dy="10.7">Km: 9: K210529 [1|false]</tspan><tspan x="0" dy="10.7">Km: 10: K234105 [1|false]</tspan></text></g>
<g id="K96838" transform="translate(2145,1678)"><ellipse class="nd" rx="145" ry="127"/><text><tspan class="n" x="0" y="-71">6</tspan><tspan x="0" y="-58">ID: K96838</tspan><tspan x="0" dy="10.7">Parents: K58986</tspan><tspan x="0" dy="10.7">Sons: K102755</tspan><tspan x="0" dy="10.7">Km: 0: K1 [1|false]</tspan><tspan x="0" dy="10.7">Km: 1: K31 [1|false]</tspan><tspan x="0" dy="10.7">Km: 2: K25301 [1|false]</tspan><tspan x="0" dy="10.7">Km: 3: K58986 [1|false]</tspan><tspan x="0" dy="10.7">Km: 4: K96838 [1|false]</tspan><tspan x="0" dy="10.7">Km: 5: K102755 [1|false]</tspan><tspan x="0" dy="10.7">Km: 6: K128015K128020K128033 [3|false]</tspan><tspan x="0" dy="10.7">Km: 7: K153275K157485K168417 [3|false]</tspan><tspan x="0" dy="10.7">Km: 8: K178535K181903K182745 [3|false]</tspan><tspan x="0" dy="10.7">Km: 9: K203811K207163K208016 [3|false]</tspan><tspan x="0" dy="10.7">Km: 10: K232423K242515 [2|false]</tspan></text></g>
<g id="K80019" transform="translate(2449,1678)"><ellipse class="nd" rx="115" ry="127"/><text><tspan class="n" x="0" y="-71">7</tspan></text></g>
<g id="K84231" transform="translate(2709,1678)"><ellipse class="nd" rx="140" ry="127"/><text><tspan class="n" x="0" y="-71">14</tspan></text></g>
<g id="K84241" transform="translate(3097,1678)"><ellipse class="nd" rx="190" ry="127"/><text><tspan class="n" x="0" y="-71">24</tspan></text></g>
<g id="K88446" transform="translate(3460,1678)"><ellipse class="nd" rx="165" ry="127"/><text><tspan class="n" x="0" y="-71">24</tspan></text></g>
<g id="K95163" transform="translate(3860,1678)"><ellipse class="nd" rx="115" ry="127"/><text><tspan class="n" x="0" y="-71">13</tspan></text></g>
<g id="K101071" transform="translate(415,2045)"><ellipse class="nd" rx="120" ry="127"/><text><tspan class="n" x="0" y="-71">5</tspan><tspan x="0" y="-58">ID: K101071</tspan><tspan x="0" dy="10.7">Parents: K75811</tspan><tspan x="0" dy="10.7">Sons: K126331,K126353</tspan><tspan x="0" dy="10.7">Km: 0: K1 [1|false]</tspan><tspan x="0" dy="10.7">Km: 1: K31 [1|false]</tspan><tspan x="0" dy="10.7">Km: 2: K25291 [1|false]</tspan><tspan x="0" dy="10.7">Km: 3: K50551 [1|false]</tspan><tspan x="0" dy="10.7">Km: 4: K75811 [1|false]</tspan><tspan x="0" dy="10.7">Km: 5: K101071 [1|false]</tspan><tspan x="0" dy="10.7">Km: 6: K126331K126353 [2|false]</tspan><tspan x="0" dy="10.7">Km: 7: K151591K151596K170097 [3|false]</tspan><tspan x="0" dy="10.7">Km: 8: K176861K180217K181066 [3|false]</tspan><tspan x="0" dy="10.7">Km: 9: K203811K210529 [2|false]</tspan><tspan x="0" dy="10.7">Km: 10: K234105K242515 [2|false]</tspan></text></g>
<g id="K105281" transform="translate(713,2045)"><ellipse class="nd" rx="125" ry="127"/><text><tspan class="n" x="0" y="-71">10</tspan><tspan x="0" y="-58">ID: K105281</tspan><tspan x="0" dy="10.7">Parents: K80021</tspan><tspan x="0" dy="10.7">Sons: K130541</tspan><tspan x="0" dy="10.7">Km: 0: K1 [1|false]</tspan><tspan x="0" dy="10.7">Km: 1: K31K36 [2|false]</tspan><tspan x="0" dy="10.7">Km: 2: K25296K25315K29501 [3|false]</tspan><tspan x="0" dy="10.7">Km: 3: K54761K70740 [2|false]</tspan><tspan x="0" dy="10.7">Km: 4: K80021 [1|false]</tspan><tspan x="0" dy="10.7">Km: 5: K105281 [1|false]</tspan><tspan x="0" dy="10.7">Km: 6: K130541 [1|false]</tspan><tspan x="0" dy="10.7">Km: 7: K155801 [1|false]</tspan><tspan x="0" dy="10.7">Km: 8: K181066 [1|false]</tspan><tspan x="0" dy="10.7">Km: 9: K210529 [1|false]</tspan><tspan x="0" dy="10.7">Km: 10: K234105 [1|false]</tspan></text></g>
<g id="K106121" transform="translate(985,2045)"><ellipse class="nd" rx="110" ry="127"/><text><tspan class="n" x="0" y="-71">9</tspan><tspan x="0" y="-58">ID: K106121</tspan><tspan x="0" dy="10.7">Parents: K82545</tspan><tspan x="0" dy="10.7">Sons: K129697</tspan><tspan x="0" dy="10.7">Km: 0: K1 [1|false]</tspan><tspan x="0" dy="10.7">Km: 1: K31K36 [2|false]</tspan><tspan x="0" dy="10.7">Km: 2: K25301K29506 [2|false]</tspan><tspan x="0" dy="10.7">Km: 3: K58969 [1|false]</tspan><tspan x="0" dy="10.7">Km: 4: K82545 [1|false]</tspan><tspan x="0" dy="10.7">Km: 5: K106121 [1|false]</tspan><tspan x="0" dy="10.7">Km: 6: K129697 [1|false]</tspan><tspan x="0" dy="10.7">Km: 7: K153273 [1|false]</tspan><tspan x="0" dy="10.7">Km: 8: K176861 [1|false]</tspan><tspan x="0" dy="10.7">Km: 9: K210529 [1|false]</tspan><tspan x="0" dy="10.7">Km: 10: K234105 [1|false]</tspan></text></g>
<g id="K99385" transform="translate(1270,2045)"><ellipse class="nd" rx="117" ry="127"/><text><tspan class="n" x="0" y="-71">1</tspan><tspan x="0" y="-58">ID: K99385</tspan><tspan x="0" dy="10.7">Parents: K95152</tspan><tspan x="0" dy="10.7">Sons: K122973</tspan><tspan x="0" dy="10.7">Km: 0: K1 [1|false]</tspan><tspan x="0" dy="10.7">Km: 1: K36 [1|false]</tspan><tspan x="0" dy="10.7">Km: 2: K29501 [1|false]</tspan><tspan x="0" dy="10.7">Km: 3: K54779 [1|false]</tspan><tspan x="0" dy="10.7">Km: 4: K95152 [1|false]</tspan><tspan x="0" dy="10.7">Km: 5: K99385 [1|false]</tspan><tspan x="0" dy="10.7">Km: 6: K122973 [1|false]</tspan><tspan x="0" dy="10.7">Km: 7: K156641K156643 [2|false]</tspan><tspan x="0" dy="10.7">Km: 8: K180217K181903 [2|false]</tspan><tspan x="0" dy="10.7">Km: 9: K203811K207163 [2|false]</tspan><tspan x="0" dy="10.7">Km: 10: K232423K242515 [2|false]</tspan></text></g>
<g id="K106965" transform="translate(1555,2045)"><ellipse class="nd" rx="117" ry="127"/><text><tspan class="n" x="0" y="-71">12</tspan><tspan x="0" y="-58">ID: K106965</tspan><tspan x="0" dy="10.7">Parents: K96843</tspan><tspan x="0" dy="10.7">Sons: K132225</tspan><tspan x="0" dy="10.7">Km: 0: K1 [1|false]</tspan><tspan x="0" dy="10.7">Km: 1: K31K36 [2|false]</tspan><tspan x="0" dy="10.7">Km: 2: K25301K29499 [2|false]</tspan><tspan x="0" dy="10.7">Km: 3: K53099K58986 [2|false]</tspan><tspan x="0" dy="10.7">Km: 4: K96843 [1|false]</tspan><tspan x="0" dy="10.7">Km: 5: K106965 [1|false]</tspan><tspan x="0" dy="10.7">Km: 6: K132225 [1|false]</tspan><tspan x="0" dy="10.7">Km: 7: K157485 [1|false]</tspan><tspan x="0" dy="10.7">Km: 8: K182745 [1|false]</tspan><tspan x="0" dy="10.7">Km: 9: K208016 [1|false]</tspan><tspan x="0" dy="10.7">Km: 10: K242515 [1|false]</tspan></text></g>
<g id="K100227" transform="translate(1853,2045)"><ellipse class="nd" rx="115" ry="127"/><text><tspan class="n" x="0" y="-71">2</tspan><tspan x="0" y="-58">ID: K100227</tspan><tspan x="0" dy="10.7">Parents: K76651</tspan><tspan x="0" dy="10.7">Sons: K123803</tspan><tspan x="0" dy="10.7">Km: 0: K1 [1|false]</tspan><tspan x="0" dy="10.7">Km: 1: K36 [1|false]</tspan><tspan x="0" dy="10.7">Km: 2: K29499 [1|false]</tspan><tspan x="0" dy="10.7">Km: 3: K53075 [1|false]</tspan><tspan x="0" dy="10.7">Km: 4: K76651 [1|false]</tspan><tspan x="0" dy="10.7">Km: 5: K100227 [1|false]</tspan><tspan x="0" dy="10.7">Km: 6: K123803 [1|false]</tspan><tspan x="0" dy="10.7">Km: 7: K147386K147391 [2|false]</tspan><tspan x="0" dy="10.7">Km: 8: K176861K181066 [2|false]</tspan><tspan x="0" dy="10.7">Km: 9: K210529 [1|false]</tspan><tspan x="0" dy="10.7">Km: 10: K234105 [1|false]</tspan></text></g>
<g id="K102755" transform="translate(2151,2045)"><ellipse class="nd" rx="145" ry="127"/><text><tspan class="n" x="0" y="-71">4</tspan><tspan x="0" y="-58">ID: K102755</tspan><tspan x="0" dy="10.7">Parents: K96838</tspan><tspan x="0" dy="10.7">Sons: K128015,K128020,K128033</tspan><tspan x="0" dy="10.7">Km: 0: K1 [1|false]</tspan><tspan x="0" dy="10.7">Km: 1: K31 [1|false]</tspan><tspan x="0" dy="10.7">Km: 2: K25301 [1|false]</tspan><tspan x="0" dy="10.7">Km: 3: K58986 [1|false]</tspan><tspan x="0" dy="10.7">Km: 4: K96838 [1|false]</tspan><tspan x="0" dy="10.7">Km: 5: K102755 [1|false]</tspan><tspan x="0" dy="10.7">Km: 6: K128015K128020K128033 [3|false]</tspan><tspan x="0" dy="10.7">Km: 7: K153275K157485K168417 [3|false]</tspan><tspan x="0" dy="10.7">Km: 8: K178535K181903K182745 [3|false]</tspan><tspan x="0" dy="10.7">Km: 9: K203811K207163K208016 [3|false]</tspan><tspan x="0" dy="10.7">Km: 10: K232423K242515 [2|false]</tspan></text></g>
<g id="l5n8" transform="translate(2449,2045)"><ellipse class="nd" rx="117" ry="127"/><text><tspan class="n" x="0" y="-71">18</tspan></text></g>
<g id="l5n9" transform="translate(2716,2045)"><ellipse class="nd" rx="123" ry="127"/><text><tspan class="n" x="0" y="-71">13</tspan></text></g>
<g id="l5n10" transform="translate(3084,2045)"><ellipse class="nd" rx="175" ry="127"/><text><tspan class="n" x="0" y="-71">26</tspan></text></g>
<g id="l5n11" transform="translate(3447,2045)"><ellipse class="nd" rx="182" ry="127"/><text><tspan class="n" x="0" y="-71">23</tspan></text></g>
<g id="K108659" transform="translate(3836,2045)"><ellipse class="nd" rx="142" ry="127"/><text><tspan class="n" x="0" y="-71">24</tspan></text></g>
<g id="l6n1" transform="translate(117,2420)"><ellipse class="nd" rx="85" ry="127"/><text><tspan class="n" x="0" y="-71">13</tspan></text></g>
<g id="l6n2" transform="translate(350,2420)"><ellipse class="nd" rx="105" ry="127"/><text><tspan class="n" x="0" y="-71">13</tspan></text></g>
<g id="l6n3" transform="translate(557,2420)"><ellipse class="nd" rx="95" ry="127"/><text><tspan class="n" x="0" y="-71">28</tspan></text></g>
<g id="l6n4" transform="translate(933,2420)"><ellipse class="nd" rx="190" ry="127"/><text><tspan class="n" x="0" y="-71">28</tspan></text></g>
<g id="l6n5" transform="translate(1244,2420)"><ellipse class="nd" rx="118" ry="127"/><text><tspan class="n" x="0" y="-71">11</tspan></text></g>
<g id="l6n6" transform="translate(1581,2420)"><ellipse class="nd" rx="105" ry="127"/><text><tspan class="n" x="0" y="-71">19</tspan></text></g>
<g id="l6n7" transform="translate(1788,2420)"><ellipse class="nd" rx="100" ry="127"/><text><tspan class="n" x="0" y="-71">19</tspan></text></g>
<g id="l6n8" transform="translate(2048,2420)"><ellipse class="nd" rx="125" ry="127"/><text><tspan class="n" x="0" y="-71">6</tspan></text></g>
<g id="l6n9" transform="translate(2333,2420)"><ellipse class="nd" rx="130" ry="127"/><text><tspan class="n" x="0" y="-71">1</tspan></text></g>
<g id="l6n10" transform="translate(2618,2420)"><ellipse class="nd" rx="130" ry="127"/><text><tspan class="n" x="0" y="-71">12</tspan></text></g>
<g id="l6n11" transform="translate(2877,2420)"><ellipse class="nd" rx="115" ry="127"/><text><tspan class="n" x="0" y="-71">8</tspan></text></g>
<g id="l6n12" transform="translate(3140,2420)"><ellipse class="nd" rx="120" ry="127"/><text><tspan class="n" x="0" y="-71">8</tspan></text></g>
<g id="l6n13" transform="translate(3420,2420)"><ellipse class="nd" rx="125" ry="127"/><text><tspan class="n" x="0" y="-71">8</tspan></text></g>
<g id="l6n14" transform="translate(3733,2420)"><ellipse class="nd" rx="145" ry="127"/><text><tspan class="n" x="0" y="-71">26</tspan></text></g>
<g id="l6n15" transform="translate(3958,2420)"><ellipse class="nd" rx="72" ry="127"/><text><tspan class="n" x="0" y="-71">23</tspan></text></g>
<g id="l7n1" transform="translate(363,2815)"><ellipse class="nd" rx="127" ry="127"/><text><tspan class="n" x="0" y="-71">14</tspan></text></g>
<g id="l7n2" transform="translate(752,2815)"><ellipse class="nd" rx="212" ry="127"/><text><tspan class="n" x="0" y="-71">11</tspan></text></g>
<g id="l7n3" transform="translate(1089,2815)"><ellipse class="nd" rx="100" ry="127"/><text><tspan class="n" x="0" y="-71">11</tspan></text></g>
<g id="l7n4" transform="translate(1361,2815)"><ellipse class="nd" rx="140" ry="127"/><text><tspan class="n" x="0" y="-71">12</tspan></text></g>
<g id="l7n5" transform="translate(1672,2815)"><ellipse class="nd" rx="115" ry="127"/><text><tspan class="n" x="0" y="-71">12</tspan></text></g>
<g id="l7n6" transform="translate(1876,2815)"><ellipse class="nd" rx="88" ry="127"/><text><tspan class="n" x="0" y="-71">12</tspan></text></g>
<g id="l7n7" transform="translate(2080,2815)"><ellipse class="nd" rx="105" ry="127"/><text><tspan class="n" x="0" y="-71">20</tspan></text></g>
<g id="l7n8" transform="translate(2385,2815)"><ellipse class="nd" rx="188" ry="127"/><text><tspan class="n" x="0" y="-71">9</tspan></text></g>
<g id="l7n9" transform="translate(2660,2815)"><ellipse class="nd" rx="82" ry="127"/><text><tspan class="n" x="0" y="-71">7</tspan></text></g>
<g id="l7n10" transform="translate(2851,2815)"><ellipse class="nd" rx="100" ry="127"/><text><tspan class="n" x="0" y="-71">7</tspan></text></g>
<g id="l7n11" transform="translate(3097,2815)"><ellipse class="nd" rx="100" ry="127"/><text><tspan class="n" x="0" y="-71">7</tspan></text></g>
<g id="l7n12" transform="translate(3300,2815)"><ellipse class="nd" rx="95" ry="127"/><text><tspan class="n" x="0" y="-71">13</tspan></text></g>
<g id="l7n13" transform="translate(3590,2815)"><ellipse class="nd" rx="110" ry="127"/><text><tspan class="n" x="0" y="-71">13</tspan></text></g>
<g id="l7n14" transform="translate(3888,2815)"><ellipse class="nd" rx="110" ry="127"/><text><tspan class="n" x="0" y="-71">22</tspan></text></g>
<g id="l8n1" transform="translate(894,3180)"><ellipse class="nd" rx="143" ry="127"/><text><tspan class="n" x="0" y="-71">15</tspan></text></g>
<g id="l8n2" transform="translate(1270,3180)"><ellipse class="nd" rx="210" ry="127"/><text><tspan class="n" x="0" y="-71">10</tspan></text></g>
<g id="l8n3" transform="translate(1800,3180)"><ellipse class="nd" rx="230" ry="127"/><text><tspan class="n" x="0" y="-71">10</tspan></text></g>
<g id="l8n4" transform="translate(2185,3180)"><ellipse class="nd" rx="140" ry="127"/><text><tspan class="n" x="0" y="-71">18</tspan></text></g>
<g id="l8n5" transform="translate(2618,3180)"><ellipse class="nd" rx="230" ry="127"/><text><tspan class="n" x="0" y="-71">18</tspan></text></g>
<g id="l8n6" transform="translate(3020,3180)"><ellipse class="nd" rx="110" ry="127"/><text><tspan class="n" x="0" y="-71">14</tspan></text></g>
<g id="l8n7" transform="translate(3214,3180)"><ellipse class="nd" rx="75" ry="127"/><text><tspan class="n" x="0" y="-71">21</tspan></text></g>
<g id="l8n8" transform="translate(3372,3180)"><ellipse class="nd" rx="78" ry="127"/><text><tspan class="n" x="0" y="-71">21</tspan></text></g>
<g id="l9n1" transform="translate(920,3545)"><ellipse class="nd" rx="110" ry="127"/><text><tspan class="n" x="0" y="-71">15</tspan></text></g>
<g id="l9n2" transform="translate(1140,3545)"><ellipse class="nd" rx="100" ry="127"/><text><tspan class="n" x="0" y="-71">27</tspan></text></g>
<g id="l9n3" transform="translate(1672,3545)"><ellipse class="nd" rx="230" ry="127"/><text><tspan class="n" x="0" y="-71">27</tspan></text></g>
<g id="l9n4" transform="translate(2100,3545)"><ellipse class="nd" rx="125" ry="127"/><text><tspan class="n" x="0" y="-71">27</tspan></text></g>
<g id="l9n5" transform="translate(2440,3545)"><ellipse class="nd" rx="195" ry="127"/><text><tspan class="n" x="0" y="-71">17</tspan></text></g>
<g id="l10n1" transform="translate(1140,3860)"><ellipse class="nd" rx="110" ry="127"/><text><tspan class="n" x="0" y="-71">16</tspan></text></g>
<g id="l10n2" transform="translate(1685,3860)"><ellipse class="nd" rx="300" ry="127"/><text><tspan class="n" x="0" y="-71">16</tspan></text></g>
<g id="l10n3" transform="translate(2268,3860)"><ellipse class="nd" rx="200" ry="127"/><text><tspan class="n" x="0" y="-71">16</tspan></text></g>
</g>
</svg>
